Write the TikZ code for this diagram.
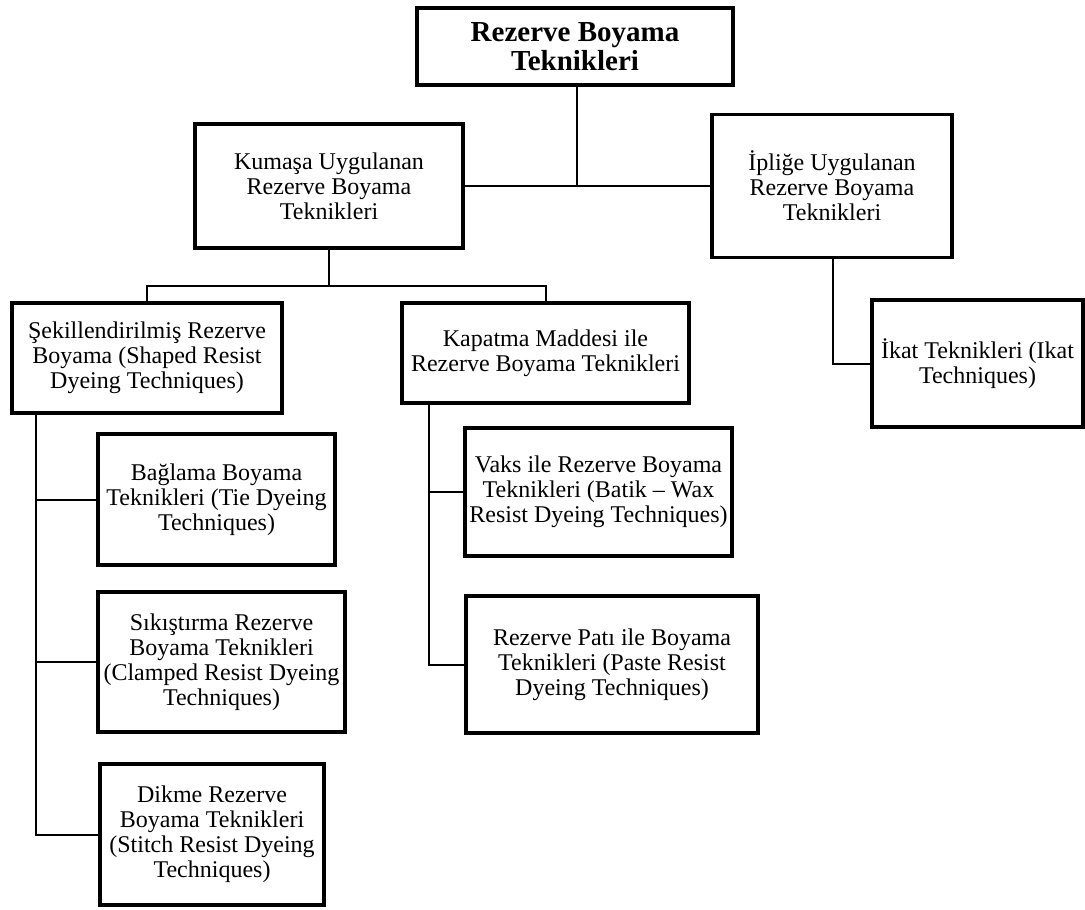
\documentclass[tikz,border=0pt]{standalone}
\usepackage{fontspec}
\setmainfont{Liberation Serif}
\begin{document}
\begin{tikzpicture}[x=1pt,y=1pt,
  box/.style={draw=black, line width=3.3pt, fill=white, inner sep=0pt, align=center,
    font=\fontsize{24}{25}\selectfont},
  rootbox/.style={box, font=\fontsize{29}{29}\selectfont\bfseries},
  link/.style={draw=black, line width=2pt}]
\useasboundingbox (0,0) rectangle (1085,-910);
% connectors first (under boxes)
\coordinate (rootc) at (577,-46.5);
\node[rootbox, minimum width=316pt, minimum height=77pt] (root) at (575,-46.5) {Rezerve Boyama\\Teknikleri};
\node[box, minimum width=268pt, minimum height=124pt] (kum) at (329,-186) {Kumaşa Uygulanan\\Rezerve Boyama\\Teknikleri};
\node[box, minimum width=240pt, minimum height=143pt] (ipl) at (832,-186) {İpliğe Uygulanan\\Rezerve Boyama\\Teknikleri};
\node[box, minimum width=211pt, minimum height=127pt] (ikat) at (977.5,-363.5) {İkat Teknikleri (Ikat\\Techniques)};
\node[box, minimum width=270pt, minimum height=110pt] (sek) at (147,-358) {Şekillendirilmiş Rezerve\\Boyama (Shaped Resist\\Dyeing Techniques)};
\node[box, minimum width=287pt, minimum height=100pt] (kap) at (545.5,-353) {Kapatma Maddesi ile\\Rezerve Boyama Teknikleri};
\node[box, minimum width=237pt, minimum height=131pt] (bag) at (216.5,-499.5) {Bağlama Boyama\\Teknikleri (Tie Dyeing\\Techniques)};
\node[box, minimum width=247pt, minimum height=140pt] (sik) at (221.5,-662) {Sıkıştırma Rezerve\\Boyama Teknikleri\\(Clamped Resist Dyeing\\Techniques)};
\node[box, minimum width=224pt, minimum height=141pt] (dik) at (212,-834.5) {Dikme Rezerve\\Boyama Teknikleri\\(Stitch Resist Dyeing\\Techniques)};
\node[box, minimum width=267pt, minimum height=128pt] (vaks) at (598.5,-492) {Vaks ile Rezerve Boyama\\Teknikleri (Batik – Wax\\Resist Dyeing Techniques)};
\node[box, minimum width=292pt, minimum height=137pt] (pati) at (612,-664.5) {Rezerve Patı ile Boyama\\Teknikleri (Paste Resist\\Dyeing Techniques)};
% connectors
\coordinate (b1) at (329,-286);
\coordinate (sekdown) at ([xshift=26pt]sek.south west);
\coordinate (kapdown) at ([xshift=29pt]kap.south west);
\coordinate (ipldown) at ([xshift=1pt]ipl.south);
\begin{scope}[on background layer/.style={}]
\draw[link] ([xshift=2pt]root.south) -- ([xshift=2pt]root.south |- kum.east);
\draw[link] (kum.east) -- (ipl.west);
\draw[link] (kum.south) -- (b1);
\draw[link] (sek.north) |- (b1) -| (kap.north);
\draw[link] (sekdown) |- (bag.west);
\draw[link] (sekdown) |- (sik.west);
\draw[link] (sekdown) |- (dik.west);
\draw[link] (kapdown) |- (vaks.west);
\draw[link] (kapdown) |- (pati.west);
\draw[link] (ipldown) |- (ikat.west);
\end{scope}
\end{tikzpicture}
\end{document}
